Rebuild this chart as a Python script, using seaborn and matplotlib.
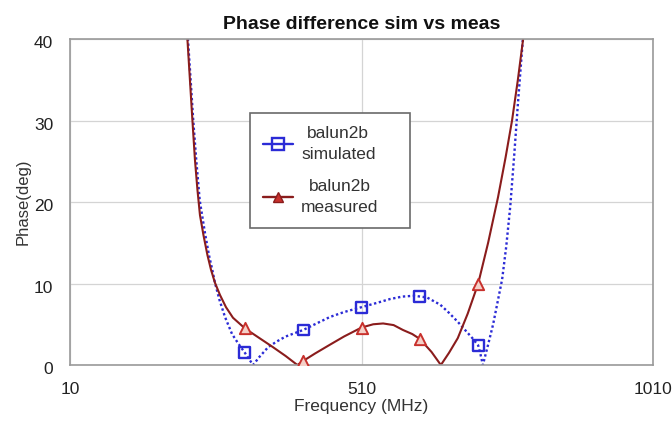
import matplotlib
matplotlib.use("Agg")
import matplotlib.pyplot as plt
from matplotlib.lines import Line2D
from matplotlib.transforms import ScaledTranslation
import pandas as pd
import seaborn as sns

# Simulated phase difference trace (MHz, deg)
sim_freq = [207.8, 212.4, 217, 221.5, 226.6, 232.6, 241.6, 248.4, 254.1, 258.7, 266.4,
            275.9, 288, 299, 310, 324, 335, 350, 365, 380, 395, 410, 430, 456, 480,
            510, 535, 559, 580, 600, 622, 645, 660, 675, 690, 700, 710, 714, 718,
            727, 735.6, 744, 751, 758, 765, 772, 778, 785, 792]
sim_phase = [45, 40, 35, 30, 25.2, 20.2, 16.2, 13.5, 11.7, 10.1, 8.0,
             5.9, 3.8, 2.6, 1.5, 0, 1.0, 2.2, 2.9, 3.5, 3.9, 4.3, 5.0, 5.9, 6.5,
             7.1, 7.6, 8.1, 8.4, 8.5, 8.3, 7.4, 6.4, 5.3, 4.1, 3.3, 2.4, 1.3, 0,
             2.5, 5, 8, 10.5, 14.5, 19.5, 26, 32, 38.5, 45]

# Measured phase difference trace (MHz, deg)
meas_freq = [207.2, 211.5, 215.8, 220.1, 224.4, 228.7, 233, 239, 245.8, 251.9, 258.7,
             267.3, 277.6, 289.6, 310, 335, 358, 380, 400, 410, 430, 456, 480, 510,
             530, 547, 565, 581, 597, 610, 630, 646, 660, 675, 692, 710, 727, 744,
             757, 768, 778, 787, 796]
meas_phase = [45, 40, 35, 30, 25.2, 21.5, 18.4, 15.95, 13.5, 11.7, 10.1,
              8.6, 7.1, 5.8, 4.5, 3.3, 2.2, 1.1, 0, 0.5, 1.4, 2.5, 3.5, 4.6,
              5.0, 5.1, 4.9, 4.3, 3.8, 3.2, 1.6, 0, 1.5, 3.3, 6.3, 10, 15, 20.6,
              25.5, 30, 35, 40, 45]

# Marker positions
marker_freq = [310, 410, 510, 610, 710]
sim_marker_phase = [1.5, 4.3, 7.1, 8.4, 2.4]
meas_marker_phase = [4.5, 0.5, 4.6, 3.2, 10.0]

x_ticks = [10, 510, 1010]
y_ticks = [0, 10, 20, 30, 40]
legend_labels = ["balun2b\nsimulated", "balun2b\nmeasured"]

sim_color = "#2b2bd6"
meas_line_color = "#8a1c1c"
meas_marker_color = "#c8302c"

sns.set_theme(style="whitegrid")
plt.rcParams["font.family"] = ["Liberation Sans", "DejaVu Sans"]

fig = plt.figure(figsize=(6.72, 4.21), dpi=100)
ax = fig.add_axes([0.104, 0.133, 0.868, 0.774])

sim_df = pd.DataFrame({"freq": sim_freq, "phase": sim_phase})
meas_df = pd.DataFrame({"freq": meas_freq, "phase": meas_phase})
sim_mk = pd.DataFrame({"freq": marker_freq, "phase": sim_marker_phase})
meas_mk = pd.DataFrame({"freq": marker_freq, "phase": meas_marker_phase})

sns.lineplot(data=sim_df, x="freq", y="phase", ax=ax, sort=False, color=sim_color,
             linestyle=(0, (1, 1.1)), linewidth=1.7)
sns.lineplot(data=meas_df, x="freq", y="phase", ax=ax, sort=False, color=meas_line_color,
             linewidth=1.5)
sns.scatterplot(data=sim_mk, x="freq", y="phase", ax=ax, marker="s", s=62,
                facecolor="none", edgecolor=sim_color, linewidth=1.7, zorder=5)
sns.scatterplot(data=meas_mk, x="freq", y="phase", ax=ax, marker="^", s=66,
                facecolor="#f4d0c8", edgecolor=meas_marker_color, linewidth=1.4, zorder=5)

ax.set_xlim(10, 1010)
ax.set_ylim(0, 40)
ax.set_xticks(x_ticks)
ax.set_yticks(y_ticks)
ax.tick_params(axis="both", labelsize=12.5, colors="#222222", length=0, pad=12)
for lab in ax.get_yticklabels():
    lab.set_transform(lab.get_transform() + ScaledTranslation(0, -3 / 100, fig.dpi_scale_trans))
ax.grid(True, color="#d4d4d4", linewidth=0.9)
for s in ax.spines.values():
    s.set_color("#9a9a9a")
    s.set_linewidth(1.2)

ax.set_xlabel("Frequency (MHz)", fontsize=12.5, color="#333333", labelpad=2)
ax.set_ylabel("Phase(deg)", fontsize=12, color="#333333")
ax.yaxis.set_label_coords(-0.068, 0.5)
ax.set_title("Phase difference sim vs meas", fontsize=14, fontweight="bold",
             color="#111111", pad=7)

handles = [
    Line2D([0], [0], color=sim_color, linewidth=1.7, marker="s", markersize=8,
           markerfacecolor="none", markeredgecolor=sim_color, markeredgewidth=1.7),
    Line2D([0], [0], color=meas_line_color, linewidth=1.7, marker="^", markersize=7,
           markerfacecolor=meas_marker_color, markeredgecolor=meas_line_color),
]
leg = ax.legend(handles, legend_labels,
                loc="upper left", bbox_to_anchor=(0.3087, 0.423, 0.2744, 0.35),
                mode="expand", borderaxespad=0, frameon=True,
                fancybox=False, framealpha=1, edgecolor="#6a6a6a", fontsize=12.5,
                handlelength=1.75, borderpad=0.75, labelspacing=0.95, handletextpad=0.45)
leg.get_frame().set_linewidth(1.2)
for t in leg.get_texts():
    t.set_multialignment("center")
    t.set_linespacing(1.5)
    t.set_color("#333333")

fig.savefig("out.png", dpi=100)
